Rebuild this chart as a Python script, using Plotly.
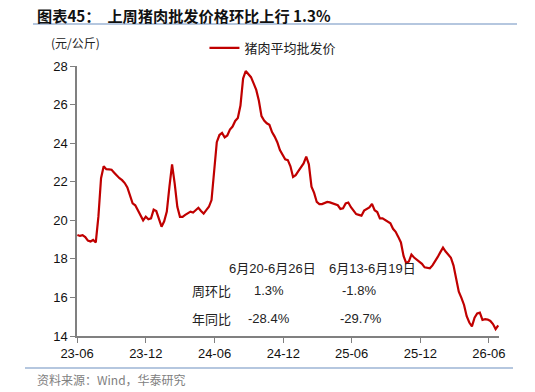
import pandas as pd
import plotly.graph_objects as go

# Weekly pork average wholesale price (元/公斤), weeks ending Friday
start_week = "2023-06-02"
prices = [
    19.24, 19.19, 19.23, 19.13, 18.95, 18.90, 18.98, 18.85, 20.20, 22.18,
    22.80, 22.65, 22.64, 22.62, 22.47, 22.30, 22.18, 22.08, 21.93, 21.70,
    21.30, 20.88, 20.78, 20.50, 20.29, 20.00, 20.19, 20.05, 20.10, 20.55,
    20.48, 20.05, 19.67, 19.95, 20.45, 21.74, 22.90, 21.90, 20.70, 20.18,
    20.18, 20.28, 20.36, 20.45, 20.40, 20.55, 20.65, 20.48, 20.35, 20.53,
    20.70, 21.05, 22.40, 24.05, 24.42, 24.53, 24.30, 24.40, 24.70, 24.86,
    25.15, 25.30, 25.95, 27.35, 27.74, 27.60, 27.42, 27.10, 26.76, 26.20,
    25.40, 25.17, 25.03, 24.95, 24.57, 24.34, 24.05, 23.64, 23.42, 23.16,
    23.12, 22.80, 22.25, 22.34, 22.55, 22.78, 22.95, 23.30, 22.90, 21.74,
    21.42, 20.95, 20.84, 20.84, 20.88, 20.95, 20.93, 20.88, 20.84, 20.78,
    20.59, 20.62, 20.87, 20.92, 20.68, 20.50, 20.32, 20.28, 20.24, 20.50,
    20.60, 20.67, 20.85, 20.52, 20.43, 20.10, 20.10, 20.00, 19.90, 19.84,
    19.56, 19.40, 19.14, 18.85, 18.15, 17.78, 17.86, 18.22, 18.07, 17.95,
    17.85, 17.74, 17.56, 17.52, 17.51, 17.66, 17.92, 18.10, 18.35, 18.58,
    18.38, 18.20, 18.06, 17.65, 17.05, 16.30, 15.98, 15.61, 15.03, 14.70,
    14.50, 14.95, 15.17, 15.21, 14.83, 14.87, 14.85, 14.78, 14.62, 14.36,
    14.55,
]
dates = pd.date_range(start_week, periods=len(prices), freq="W-FRI")

series_name = "猪肉平均批发价"
title_text = "图表45：  上周猪肉批发价格环比上行 1.3%"
unit_text = "(元/公斤)"
source_text = "资料来源：Wind，华泰研究"
period_labels = ["6月20-6月26日", "6月13-6月19日"]
row_labels = ["周环比", "年同比"]
wow_values = ["1.3%", "-1.8%"]
yoy_values = ["-28.4%", "-29.7%"]

RED = "#c00000"
GREY = "#808080"
BLUE = "#6d8fc0"
NUM_FONT = "Liberation Sans, Arial, Noto Sans CJK SC"
CJK_FONT = "Noto Sans CJK SC, Liberation Sans"

fig = go.Figure()
fig.add_trace(go.Scatter(
    x=dates, y=prices, mode="lines", name=series_name,
    line=dict(color=RED, width=2.2),
))

fig.update_layout(
    width=535, height=392,
    margin=dict(l=77, r=36, t=66, b=56),
    paper_bgcolor="white", plot_bgcolor="white",
    showlegend=True,
    legend=dict(
        x=0.302, y=1.067, xanchor="left", yanchor="middle",
        orientation="h", bgcolor="rgba(0,0,0,0)",
        font=dict(family=CJK_FONT, size=13, color="#222"),
    ),
    xaxis=dict(
        type="date",
        range=["2023-06-01", "2026-06-28"],
        tick0="2023-06-01", dtick="M6", tickformat="%y-%m",
        ticks="outside", ticklen=5, tickcolor=GREY, tickwidth=1,
        showline=True, linecolor=GREY, linewidth=1.5,
        showgrid=False, zeroline=False,
        tickfont=dict(family=NUM_FONT, size=13, color="#111"),
    ),
    yaxis=dict(
        range=[14, 28], dtick=2, tick0=14,
        ticks="outside", ticklen=5, tickcolor=GREY, tickwidth=1,
        showline=True, linecolor=GREY, linewidth=1.5,
        showgrid=False, zeroline=False,
        tickfont=dict(family=NUM_FONT, size=13, color="#111"),
    ),
)

def px_x(px):
    return (px - 77) / 422.0

def px_y(py):
    return (336 - py) / 270.0

annotations = [
    dict(text="<b>" + title_text + "</b>", x=px_x(35), y=px_y(15), xanchor="left",
         yanchor="middle", font=dict(family=CJK_FONT, size=15.2, color="#111")),
    dict(text=unit_text, x=px_x(49), y=px_y(43), xanchor="left", yanchor="middle",
         font=dict(family=CJK_FONT, size=12, color="#222")),
    dict(text=source_text, x=px_x(35), y=px_y(379), xanchor="left", yanchor="middle",
         font=dict(family=CJK_FONT, size=12, color=GREY)),
    dict(text=period_labels[0], x=px_x(272), y=px_y(268), xanchor="center", yanchor="middle",
         font=dict(family=NUM_FONT, size=13, color="#222")),
    dict(text=period_labels[1], x=px_x(372.5), y=px_y(268.5), xanchor="center", yanchor="middle",
         font=dict(family=NUM_FONT, size=13, color="#222")),
    dict(text=row_labels[0], x=px_x(211), y=px_y(290), xanchor="center", yanchor="middle",
         font=dict(family=CJK_FONT, size=13, color="#222")),
    dict(text=row_labels[1], x=px_x(211), y=px_y(318), xanchor="center", yanchor="middle",
         font=dict(family=CJK_FONT, size=13, color="#222")),
    dict(text=wow_values[0], x=px_x(269), y=px_y(290), xanchor="center", yanchor="middle",
         font=dict(family=NUM_FONT, size=13, color="#222")),
    dict(text=wow_values[1], x=px_x(359), y=px_y(290.5), xanchor="center", yanchor="middle",
         font=dict(family=NUM_FONT, size=13, color="#222")),
    dict(text=yoy_values[0], x=px_x(269), y=px_y(318), xanchor="center", yanchor="middle",
         font=dict(family=NUM_FONT, size=13, color="#222")),
    dict(text=yoy_values[1], x=px_x(360.5), y=px_y(318), xanchor="center", yanchor="middle",
         font=dict(family=NUM_FONT, size=13, color="#222")),
]
for a in annotations:
    a.update(xref="paper", yref="paper", showarrow=False)
fig.update_layout(annotations=annotations)

fig.update_layout(shapes=[
    dict(type="line", xref="paper", yref="paper", x0=px_x(33), x1=px_x(517),
         y0=px_y(24), y1=px_y(24), line=dict(color=BLUE, width=1.2)),
    dict(type="line", xref="paper", yref="paper", x0=px_x(25), x1=px_x(513),
         y0=px_y(368), y1=px_y(368), line=dict(color=BLUE, width=1.2)),
])

fig.write_html("out.html")
